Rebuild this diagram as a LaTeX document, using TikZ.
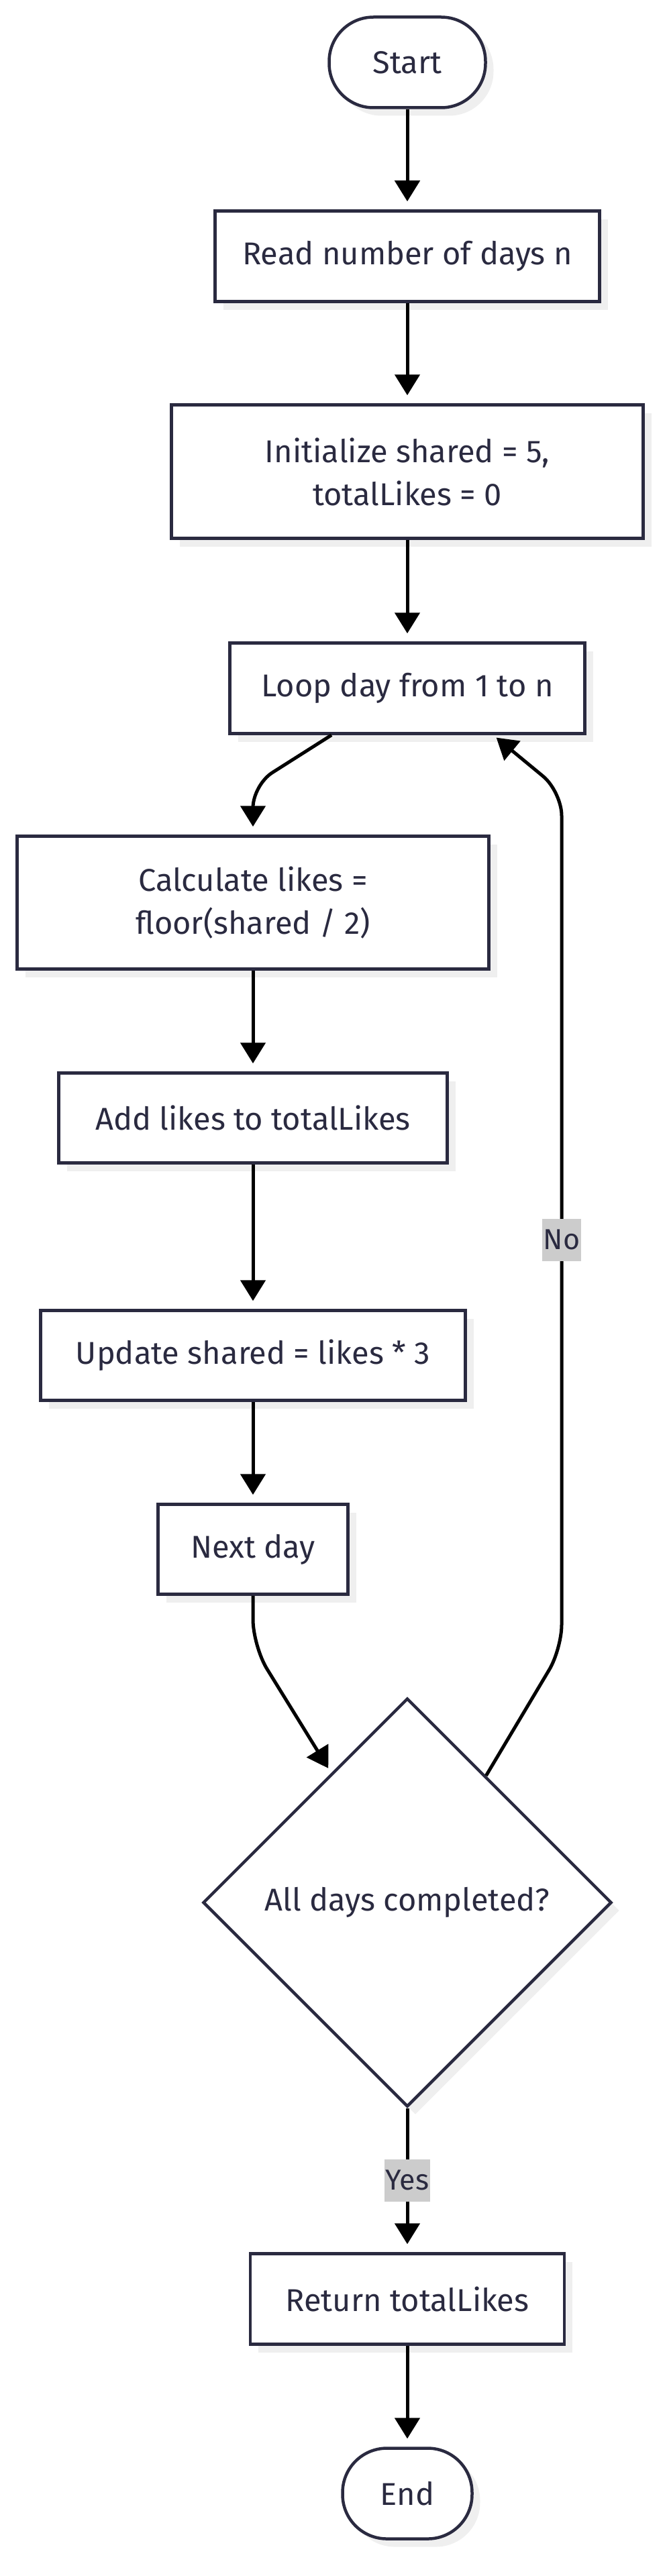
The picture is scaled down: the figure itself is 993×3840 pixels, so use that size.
\documentclass[tikz,border=0pt]{standalone}
\usepackage{fontspec}
\setmainfont{Fira Sans}
\usetikzlibrary{arrows.meta,shapes.geometric,shadows,calc}
\definecolor{bordc}{RGB}{42,42,64}
\definecolor{txtc}{RGB}{42,42,64}
\definecolor{shadc}{RGB}{239,239,239}
\definecolor{lblc}{RGB}{204,204,204}
\begin{document}
\begin{tikzpicture}[x=1pt,y=-1pt,
  box/.style={draw=bordc, line width=4.5pt, fill=white, text=txtc,
    font=\fontsize{47}{64}\selectfont, align=center, inner sep=0pt,
    drop shadow={shadow xshift=12pt, shadow yshift=-12pt, fill=shadc, opacity=1}},
  procbox/.style={box, rectangle},
  term/.style={box, rectangle, rounded corners=66pt},
  decbox/.style={box, diamond, aspect=1},
  arr/.style={draw=black, line width=5pt, -{Triangle[length=31pt,width=37pt]}, shorten >=12pt},
  lbl/.style={sharp corners, fill=lblc, text=txtc, font=\fontsize{43}{50}\selectfont, inner xsep=2pt, inner ysep=0pt, minimum height=63pt}
]
\useasboundingbox (0,0) rectangle (993,3840);

\node[term, minimum width=233pt, minimum height=135pt] (start) at (607,93) {Start};
\node[procbox, minimum width=573pt, minimum height=135pt] (read) at (607,382) {Read number of days n};
\node[procbox, minimum width=703pt, minimum height=199pt] (init) at (607,703) {Initialize shared = 5,\\ totalLikes = 0};
\node[procbox, minimum width=529pt, minimum height=135pt] (loop) at (607,1026) {Loop day from 1 to n};
\node[procbox, minimum width=703pt, minimum height=198pt] (calc) at (377,1345.5) {Calculate likes =\\ floor(shared / 2)};
\node[procbox, minimum width=579pt, minimum height=134pt] (add) at (377,1666.5) {Add likes to totalLikes};
\node[procbox, minimum width=633pt, minimum height=134pt] (upd) at (377,2020.5) {Update shared = likes * 3};
\node[procbox, minimum width=283pt, minimum height=134pt] (next) at (377,2309.5) {Next day};
\node[decbox, minimum width=609pt, minimum height=609pt] (dec) at (607,2836) {All days completed?};
\node[procbox, minimum width=468pt, minimum height=135pt] (ret) at (607,3427) {Return totalLikes};
\node[term, minimum width=193pt, minimum height=135pt] (end) at (607,3717) {End};

\coordinate (lout) at ($(loop.south)+(-113,0)$);
\coordinate (b1) at (377,1170);
\coordinate (dIn) at ($(dec.north)!0.37!(dec.west)$);
\coordinate (b3) at (377,2454);
\coordinate (dOut) at ($(dec.north)!0.383!(dec.east)$);
\coordinate (b4) at (837,2458);
\coordinate (b5) at (837,1180);
\coordinate (lin) at ($(loop.south)+(128,0)$);

\draw[arr] (start) -- (read);
\draw[arr] (read) -- (init);
\draw[arr] (init) -- (loop);
\draw[arr, rounded corners=34pt] (lout) -- (b1) -- (calc.north);
\draw[arr] (calc) -- (add);
\draw[arr] (add) -- (upd);
\draw[arr] (upd) -- (next);
\draw[arr, rounded corners=40pt, shorten >=8pt] (next.south) -- (b3) -- (dIn);
\draw[arr, rounded corners=36pt, shorten >=6pt] (dOut) -- (b4) -- node[lbl, pos=0.477] {No} (b5) -- (lin);
\draw[arr] (dec.south) -- node[lbl, pos=0.5] {Yes} (ret.north);
\draw[arr] (ret) -- (end);
\end{tikzpicture}
\end{document}
